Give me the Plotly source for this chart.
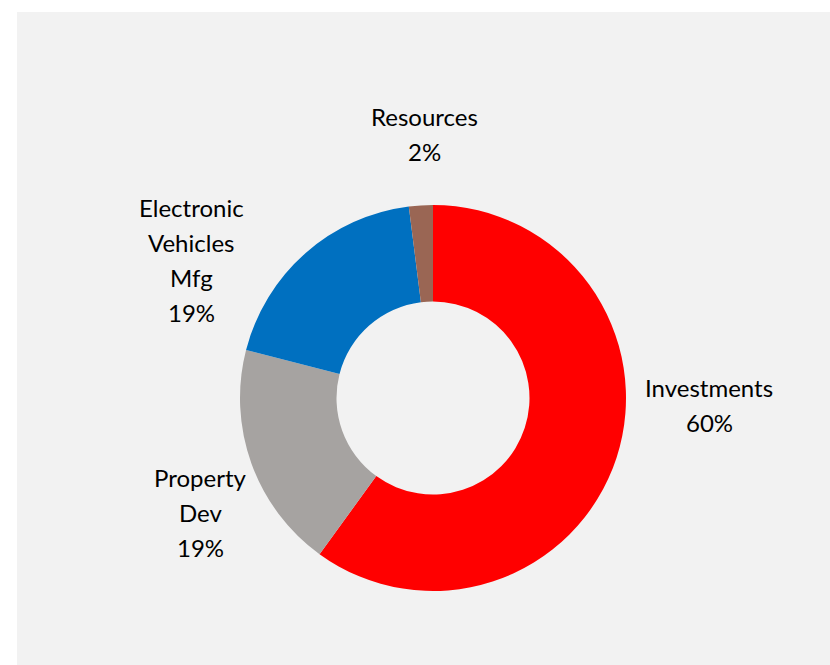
import plotly.graph_objects as go

# Segment data
segments = ["Investments", "Property Dev", "Electronic Vehicles Mfg", "Resources"]
shares = [60, 19, 19, 2]
colors = ["#ff0000", "#a6a3a1", "#0070c0", "#9a6654"]

# Label line breaks and placement (pixel centre of the label block)
label_lines = [["Investments"], ["Property", "Dev"], ["Electronic", "Vehicles", "Mfg"], ["Resources"]]
label_centers = [(709, 405), (200, 512), (191, 260), (424, 134)]

W, H = 830, 665
cx, cy, r = 433, 398, 193
LINE = 35

fig = go.Figure(go.Pie(
    labels=segments,
    values=shares,
    marker=dict(colors=colors, line=dict(width=0)),
    hole=0.5,
    sort=False,
    direction="clockwise",
    rotation=0,
    textinfo="none",
    hoverinfo="label+percent",
    showlegend=False,
    domain=dict(x=[(cx - r) / W, (cx + r) / W], y=[1 - (cy + r) / H, 1 - (cy - r) / H]),
))

annotations = []
total = sum(shares)
for lines, val, (lx, ly) in zip(label_lines, shares, label_centers):
    all_lines = lines + [f"{round(100 * val / total)}%"]
    n = len(all_lines)
    for i, t in enumerate(all_lines):
        y_px = ly + (i - (n - 1) / 2) * LINE
        annotations.append(dict(
            x=lx / W, y=1 - y_px / H, xref="paper", yref="paper",
            text=t, showarrow=False, xanchor="center", yanchor="middle",
            font=dict(family="Lato", size=24, color="#000000"),
        ))

fig.update_layout(
    width=W, height=H,
    margin=dict(l=0, r=0, t=0, b=0),
    paper_bgcolor="#ffffff",
    plot_bgcolor="#ffffff",
    shapes=[dict(type="rect", xref="paper", yref="paper",
                 x0=17 / W, x1=1, y0=0, y1=1 - 12 / H,
                 fillcolor="#f2f2f2", line=dict(width=0), layer="below")],
    annotations=annotations,
)

fig.write_html("out.html")
